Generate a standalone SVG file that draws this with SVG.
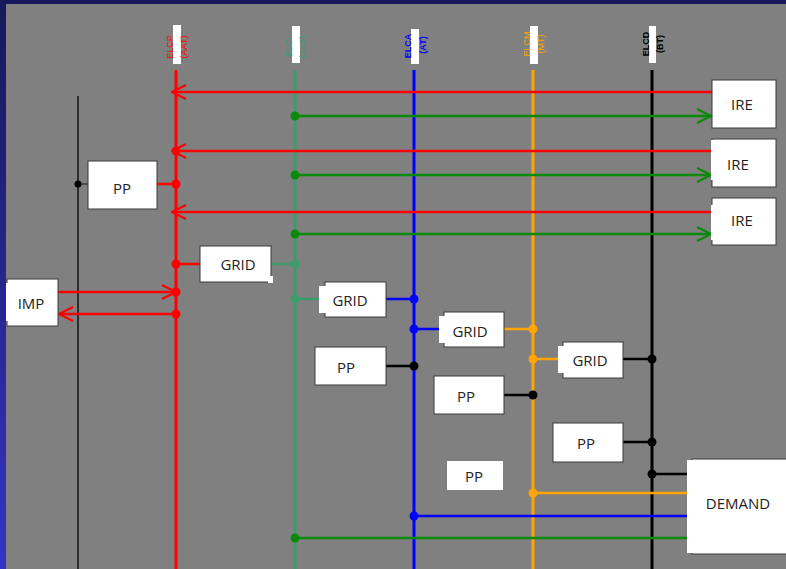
<svg xmlns="http://www.w3.org/2000/svg" width="786" height="569" viewBox="0 0 786 569">
  <defs>
    <linearGradient id="edge" x1="0" y1="0" x2="0" y2="1">
      <stop offset="0" stop-color="#18185a"/>
      <stop offset="1" stop-color="#3434c4"/>
    </linearGradient>
    <marker id="ahRed" viewBox="0 0 16 16" refX="15" refY="8" markerWidth="16" markerHeight="16" markerUnits="userSpaceOnUse" orient="auto">
      <path d="M1,1 L15,8 L1,15" fill="none" stroke="#ff0000" stroke-width="2.2"/>
    </marker>
    <marker id="ahGreen" viewBox="0 0 16 16" refX="15" refY="8" markerWidth="16" markerHeight="16" markerUnits="userSpaceOnUse" orient="auto">
      <path d="M1,1 L15,8 L1,15" fill="none" stroke="#0a8a0a" stroke-width="2.2"/>
    </marker>
    <style>
      .box { fill: #ffffff; stroke: #3a3a3a; stroke-width: 1; }
      .patch { fill: #ffffff; }
      .lbl { font-family: "Open Sans", "Liberation Sans", sans-serif; font-size: 15px; fill: #222222; text-anchor: middle; dominant-baseline: central; }
      .bus { font-family: "Liberation Sans", Arial, sans-serif; font-size: 9px; text-anchor: middle; dominant-baseline: central; }
      .tag { fill: #ffffff; }
      .red { stroke: #ff0000; }
      .sea { stroke: #3c9c6c; }
      .grn { stroke: #0a8a0a; }
      .blu { stroke: #0000ff; }
      .org { stroke: #ffa500; }
      .blk { stroke: #000000; }
      .v { stroke-width: 3; fill: none; }
      .h { stroke-width: 2.5; fill: none; }
    </style>
  </defs>

  <!-- slide background and frame -->
  <rect x="0" y="0" width="786" height="569" fill="#808080"/>
  <rect x="0" y="0" width="6" height="569" fill="url(#edge)"/>
  <rect x="0" y="0" width="786" height="4" fill="#18185c"/>

  <!-- bus headers -->
  <g id="bus-elcp">
    <rect class="tag" x="173" y="25" width="8" height="39"/>
    <text class="bus" fill="#ff0000" transform="translate(170,47) rotate(-90)">ELCP</text>
    <text class="bus" fill="#ff0000" transform="translate(184,47) rotate(-90)">(AAT)</text>
  </g>
  <g id="bus-elci">
    <rect class="tag" x="292" y="26" width="8" height="37"/>
    <text class="bus" fill="#3c9c6c" transform="translate(289,47) rotate(-90)">ELCI</text>
    <text class="bus" fill="#3c9c6c" transform="translate(303,47) rotate(-90)">(AAT)</text>
  </g>
  <g id="bus-elca">
    <rect class="tag" x="411" y="29" width="8" height="35"/>
    <text class="bus" fill="#0000ff" font-weight="bold" transform="translate(408,46) rotate(-90)">ELCA</text>
    <text class="bus" fill="#0000ff" font-weight="bold" transform="translate(423,45) rotate(-90)">(AT)</text>
  </g>
  <g id="bus-elcm">
    <rect class="tag" x="530" y="26" width="8" height="38"/>
    <text class="bus" fill="#ffa500" transform="translate(527,44) rotate(-90)">ELCM</text>
    <text class="bus" fill="#ffa500" transform="translate(541,44) rotate(-90)">(MT)</text>
  </g>
  <g id="bus-elcd">
    <rect class="tag" x="649" y="26" width="7" height="37"/>
    <text class="bus" fill="#000000" font-weight="bold" transform="translate(646,44) rotate(-90)">ELCD</text>
    <text class="bus" fill="#000000" font-weight="bold" transform="translate(660,44) rotate(-90)">(BT)</text>
  </g>

  <!-- connectors -->
  <g id="connectors">
    <!-- vertical buses -->
    <line x1="78" y1="96" x2="78" y2="569" stroke="#000" stroke-width="1.3"/>
    <line class="v red" x1="176" y1="70" x2="176" y2="569"/>
    <line class="v sea" x1="295" y1="70" x2="295" y2="569"/>
    <line class="v blu" x1="414" y1="70" x2="414" y2="569"/>
    <line class="v org" x1="533" y1="70" x2="533" y2="569"/>
    <line class="v blk" x1="652" y1="70" x2="652" y2="569"/>

    <!-- IRE exchanges -->
    <line class="h red" x1="712" y1="92" x2="172" y2="92" marker-end="url(#ahRed)"/>
    <line class="h grn" x1="295" y1="116" x2="711" y2="116" marker-end="url(#ahGreen)"/>
    <line class="h red" x1="712" y1="151" x2="172" y2="151" marker-end="url(#ahRed)"/>
    <line class="h grn" x1="295" y1="175" x2="711" y2="175" marker-end="url(#ahGreen)"/>
    <line class="h red" x1="712" y1="212" x2="172" y2="212" marker-end="url(#ahRed)"/>
    <line class="h grn" x1="295" y1="234" x2="711" y2="234" marker-end="url(#ahGreen)"/>

    <!-- left PP -->
    <line x1="78" y1="184" x2="88" y2="184" stroke="#333" stroke-width="1.3"/>
    <line class="h red" x1="157" y1="184" x2="176" y2="184"/>

    <!-- IMP -->
    <line class="h red" x1="58" y1="292" x2="176" y2="292" marker-end="url(#ahRed)"/>
    <line class="h red" x1="176" y1="314" x2="59" y2="314" marker-end="url(#ahRed)"/>

    <!-- GRID ties -->
    <line class="h red" x1="176" y1="264" x2="201" y2="264"/>
    <line class="h sea" x1="271" y1="264" x2="295" y2="264"/>
    <line class="h sea" x1="295" y1="299" x2="320" y2="299"/>
    <line class="h blu" x1="386" y1="299" x2="414" y2="299"/>
    <line class="h blu" x1="414" y1="329" x2="440" y2="329"/>
    <line class="h org" x1="504" y1="329" x2="533" y2="329"/>
    <line class="h org" x1="533" y1="359" x2="559" y2="359"/>
    <line class="h blk" x1="623" y1="359" x2="652" y2="359"/>

    <!-- PP feeds -->
    <line class="h blk" x1="386" y1="366" x2="414" y2="366"/>
    <line class="h blk" x1="504" y1="395" x2="533" y2="395"/>
    <line class="h blk" x1="623" y1="442" x2="652" y2="442"/>

    <!-- DEMAND feeds -->
    <line class="h blk" x1="652" y1="474" x2="688" y2="474"/>
    <line class="h org" x1="533" y1="493" x2="688" y2="493"/>
    <line class="h blu" x1="414" y1="516" x2="688" y2="516"/>
    <line class="h grn" x1="295" y1="538" x2="688" y2="538"/>

    <!-- junction dots -->
    <g fill="#ff0000">
      <circle cx="176" cy="151" r="4.5"/>
      <circle cx="176" cy="184" r="4.5"/>
      <circle cx="176" cy="264" r="4.5"/>
      <circle cx="176" cy="292" r="4.5"/>
      <circle cx="176" cy="314" r="4.5"/>
    </g>
    <g fill="#0a8a0a">
      <circle cx="295" cy="116" r="4.5"/>
      <circle cx="295" cy="175" r="4.5"/>
      <circle cx="295" cy="234" r="4.5"/>
      <circle cx="295" cy="538" r="4.5"/>
    </g>
    <g fill="#3c9c6c">
      <circle cx="295" cy="264" r="4.5"/>
      <circle cx="295" cy="299" r="4.5"/>
    </g>
    <g fill="#0000ff">
      <circle cx="414" cy="299" r="4.5"/>
      <circle cx="414" cy="329" r="4.5"/>
      <circle cx="414" cy="516" r="4.5"/>
    </g>
    <g fill="#ffa500">
      <circle cx="533" cy="329" r="4.5"/>
      <circle cx="533" cy="359" r="4.5"/>
      <circle cx="533" cy="493" r="4.5"/>
    </g>
    <g fill="#000000">
      <circle cx="78" cy="184" r="3.5"/>
      <circle cx="414" cy="366" r="4.5"/>
      <circle cx="533" cy="395" r="4.5"/>
      <circle cx="652" cy="359" r="4.5"/>
      <circle cx="652" cy="442" r="4.5"/>
      <circle cx="652" cy="474" r="4.5"/>
    </g>
  </g>

  <!-- nodes -->
  <g id="ire1">
    <rect class="box" x="712" y="80" width="64" height="48"/>
    <text class="lbl" x="742" y="104">IRE</text>
  </g>
  <g id="ire2">
    <rect class="box" x="712" y="139" width="64" height="48"/>
    <rect class="patch" x="711" y="140" width="10" height="40"/>
    <text class="lbl" x="738" y="164">IRE</text>
  </g>
  <g id="ire3">
    <rect class="box" x="712" y="198" width="64" height="47"/>
    <rect class="patch" x="711" y="205" width="10" height="35"/>
    <text class="lbl" x="742" y="220">IRE</text>
  </g>
  <g id="pp-left">
    <rect class="box" x="88" y="161" width="69" height="48"/>
    <text class="lbl" x="122" y="188">PP</text>
  </g>
  <g id="imp">
    <rect class="box" x="7" y="279" width="51" height="47"/>
    <rect class="patch" x="6" y="283" width="6" height="38"/>
    <text class="lbl" x="31" y="303">IMP</text>
  </g>
  <g id="grid1">
    <rect class="box" x="200" y="246" width="71" height="36"/>
    <rect class="patch" x="268" y="276" width="5" height="7"/>
    <text class="lbl" x="238" y="264">GRID</text>
  </g>
  <g id="grid2">
    <rect class="box" x="325" y="282" width="61" height="35"/>
    <rect class="patch" x="319" y="286" width="8" height="27"/>
    <text class="lbl" x="350" y="300">GRID</text>
  </g>
  <g id="grid3">
    <rect class="box" x="444" y="312" width="60" height="35"/>
    <rect class="patch" x="439" y="316" width="7" height="27"/>
    <text class="lbl" x="470" y="331">GRID</text>
  </g>
  <g id="grid4">
    <rect class="box" x="563" y="342" width="60" height="36"/>
    <rect class="patch" x="558" y="346" width="7" height="27"/>
    <text class="lbl" x="590" y="360">GRID</text>
  </g>
  <g id="pp-a">
    <rect class="box" x="315" y="347" width="71" height="38"/>
    <text class="lbl" x="346" y="367">PP</text>
  </g>
  <g id="pp-m">
    <rect class="box" x="434" y="376" width="70" height="38"/>
    <text class="lbl" x="466" y="396">PP</text>
  </g>
  <g id="pp-b">
    <rect class="box" x="553" y="423" width="70" height="39"/>
    <text class="lbl" x="586" y="443">PP</text>
  </g>
  <g id="pp-free">
    <rect class="patch" x="447" y="461" width="56" height="29"/>
    <text class="lbl" x="474" y="476">PP</text>
  </g>
  <g id="demand">
    <rect class="box" x="692" y="459" width="100" height="95"/>
    <rect class="patch" x="687" y="460" width="10" height="93"/>
    <text class="lbl" x="738" y="503">DEMAND</text>
  </g>
</svg>
